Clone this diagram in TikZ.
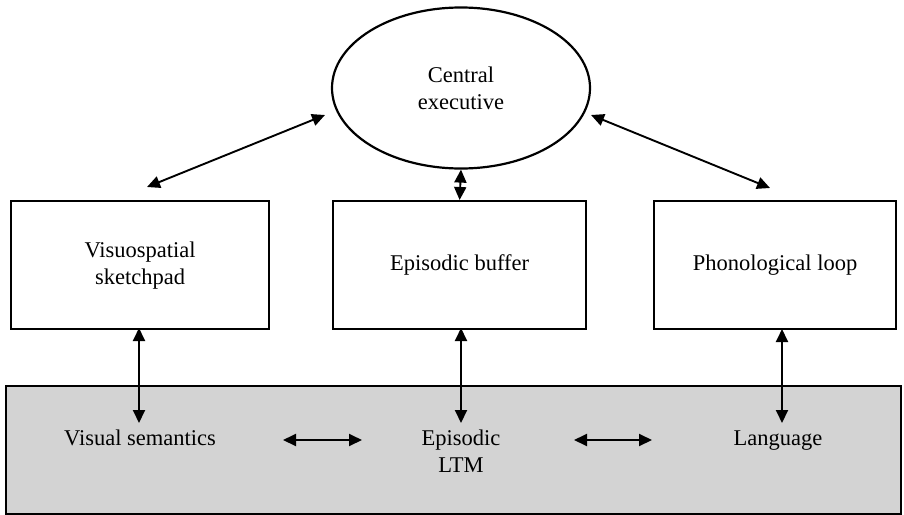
\documentclass[tikz,border=0pt]{standalone}
\usepackage{fontspec}
\setmainfont{Liberation Serif}
\usetikzlibrary{arrows.meta,shapes.geometric}
\definecolor{ltmgray}{HTML}{D3D3D3}
\tikzset{
  lbl/.style={font=\fontsize{22.5}{27}\selectfont, align=center},
  unit/.style={draw, line width=2.2pt, inner sep=0pt, lbl},
  link/.style={line width=1.9pt, {Triangle[length=13pt,width=12pt]}-{Triangle[length=13pt,width=12pt]}}
}
\begin{document}
\begin{tikzpicture}[x=1pt,y=-1pt]
\useasboundingbox (0,0) rectangle (904,514);

% long-term memory band
\node[draw, line width=1.8pt, fill=ltmgray, minimum width=895pt, minimum height=128pt, inner sep=0pt, anchor=north west] (ltm) at (5,385) {};

% working-memory components
\node[unit, ellipse, minimum width=258pt, minimum height=161pt] (ce) at (461,88) {Central\\executive};
\node[unit, minimum width=258pt, minimum height=128pt, anchor=north west] (vs) at (10,200) {Visuospatial\\sketchpad};
\node[unit, minimum width=253pt, minimum height=128pt, anchor=north west] (eb) at (332,200) {Episodic buffer};
\node[unit, minimum width=242pt, minimum height=128pt, anchor=north west] (pl) at (653,200) {Phonological loop};

% long-term stores, sharing one baseline
\node[lbl, anchor=base] (vsem) at (140,445) {Visual semantics};
\node[lbl, anchor=base] (eltm) at (461,445) {Episodic};
\node[lbl, anchor=base] (eltm2) at (461,472) {LTM};
\node[lbl, anchor=base] (lang) at (778,445) {Language};

% connector end points
\coordinate (ceL) at (325,115);
\coordinate (vsT) at (147,187);
\coordinate (ceR) at (591,115);
\coordinate (plT) at (770,188);
\coordinate (vsD) at (139,423);
\coordinate (ebD) at (461,423);
\coordinate (plD) at (782,423);
\coordinate (vsBot) at (139,328);
\coordinate (ebBot) at (461,328);
\coordinate (plBot) at (782,329);
\coordinate (h1a) at (283,440);
\coordinate (h1b) at (362,440);
\coordinate (h2a) at (574,440);
\coordinate (h2b) at (652,440);

\draw[link] (ceL) -- (vsT);
\draw[link] (ceR) -- (plT);
\draw[link] (ce.south) -- (eb.north);
\draw[link] (vsBot) -- (vsD);
\draw[link] (ebBot) -- (ebD);
\draw[link] (plBot) -- (plD);
\draw[link] (h1a) -- (h1b);
\draw[link] (h2a) -- (h2b);
\end{tikzpicture}
\end{document}
